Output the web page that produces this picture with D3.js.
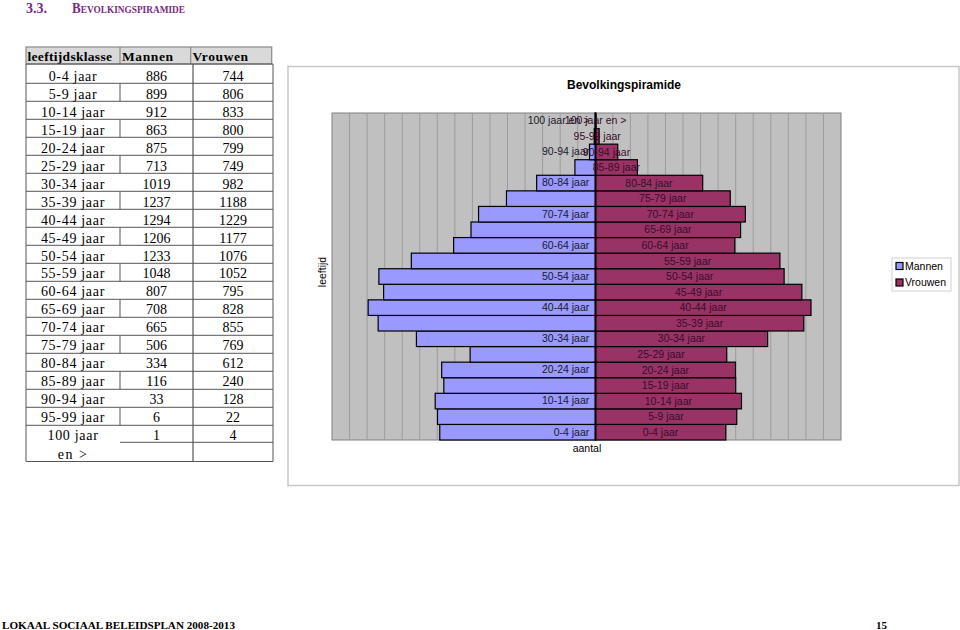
<!DOCTYPE html>
<html>
<head>
<meta charset="utf-8">
<script src="https://cdn.jsdelivr.net/npm/d3@7"></script>
<style>
    body { margin: 0; background: #fff; }
    svg { display: block; }
</style>
</head>
<body>
<script>
// leeftijdsklassen, van jong naar oud
var categories = ["0-4 jaar", "5-9 jaar", "10-14 jaar", "15-19 jaar", "20-24 jaar", "25-29 jaar",
    "30-34 jaar", "35-39 jaar", "40-44 jaar", "45-49 jaar", "50-54 jaar", "55-59 jaar",
    "60-64 jaar", "65-69 jaar", "70-74 jaar", "75-79 jaar", "80-84 jaar", "85-89 jaar",
    "90-94 jaar", "95-99 jaar", "100 jaar en >"];
var mannen = [886, 899, 912, 863, 875, 713, 1019, 1237, 1294, 1206, 1233, 1048,
    807, 708, 665, 506, 334, 116, 33, 6, 1];
var vrouwen = [744, 806, 833, 800, 799, 749, 982, 1188, 1229, 1177, 1076, 1052,
    795, 828, 855, 769, 612, 240, 128, 22, 4];
var tableHeader = ["leeftijdsklasse", "Mannen", "Vrouwen"];
var legendLabels = ["Mannen", "Vrouwen"];

var colMannen = "#9999ff",
    colVrouwen = "#993366";

var svg = d3.select("body").append("svg")
    .attr("width", 960)
    .attr("height", 630);

var serif = "'Liberation Serif', 'Times New Roman', serif",
    sans = "'Liberation Sans', Arial, sans-serif";

// ---- kop en voet van de pagina ----
svg.append("text")
    .attr("x", 26).attr("y", 12.5)
    .attr("font-family", serif).attr("font-weight", "bold").attr("font-size", 14.5)
    .attr("textLength", 21).attr("lengthAdjust", "spacingAndGlyphs")
    .attr("fill", "#7b2a7f")
    .text("3.3.");
svg.append("text")
    .attr("x", 72).attr("y", 12.5)
    .attr("font-family", serif).attr("font-weight", "bold").attr("font-size", 14)
    .attr("font-variant", "small-caps")
    .attr("textLength", 113).attr("lengthAdjust", "spacingAndGlyphs")
    .attr("fill", "#7b2a7f")
    .text("Bevolkingspiramide");

svg.append("text")
    .attr("x", 2).attr("y", 629)
    .attr("font-family", serif).attr("font-weight", "bold").attr("font-size", 11)
    .attr("textLength", 233).attr("lengthAdjust", "spacingAndGlyphs")
    .attr("fill", "#000")
    .text("LOKAAL SOCIAAL BELEIDSPLAN 2008-2013");
svg.append("text")
    .attr("x", 876).attr("y", 629)
    .attr("font-family", serif).attr("font-weight", "bold").attr("font-size", 11)
    .text("15");

// ---- tabel ----
var tbl = svg.append("g").attr("class", "tabel");
var tLeft = 26, tRight = 273, c1 = 120, c2 = 193;
var headTop = 47, headBottom = 64;

function rowTop(i) {
    return i === 0 ? headBottom : 65.3 + i * 18;
}
var tableBottom = 461.5;

tbl.append("rect")
    .attr("x", tLeft).attr("y", headTop)
    .attr("width", 271.7 - tLeft).attr("height", headBottom - headTop)
    .attr("fill", "#d9d9d9").attr("stroke", "#8a8a8a").attr("stroke-width", 1.2);
[c1, 190.7].forEach(function (x) {
    tbl.append("line")
        .attr("x1", x).attr("x2", x).attr("y1", headTop).attr("y2", headBottom)
        .attr("stroke", "#8a8a8a").attr("stroke-width", 1.2);
});
var headX = [27.5, 122, 192.5];
tableHeader.forEach(function (h, i) {
    tbl.append("text")
        .attr("x", headX[i]).attr("y", 60.5)
        .attr("font-family", serif).attr("font-weight", "bold").attr("font-size", 13.5)
        .attr("letter-spacing", i === 0 ? 0.3 : 0.6)
        .text(h);
});

var lineCol = "#555";
// horizontale lijnen
d3.range(0, 21).forEach(function (i) {
    tbl.append("line")
        .attr("x1", tLeft).attr("x2", tRight)
        .attr("y1", rowTop(i)).attr("y2", rowTop(i))
        .attr("stroke", lineCol).attr("stroke-width", 1);
});
tbl.append("line")
    .attr("x1", c1).attr("x2", tRight)
    .attr("y1", rowTop(21) - 1).attr("y2", rowTop(21) - 1)
    .attr("stroke", lineCol).attr("stroke-width", 1);
tbl.append("line")
    .attr("x1", tLeft).attr("x2", tRight)
    .attr("y1", tableBottom).attr("y2", tableBottom)
    .attr("stroke", lineCol).attr("stroke-width", 1.2);
// verticale lijnen
[tLeft, c2, tRight].forEach(function (x) {
    tbl.append("line")
        .attr("x1", x).attr("x2", x).attr("y1", headBottom).attr("y2", tableBottom)
        .attr("stroke", lineCol).attr("stroke-width", x === c2 ? 1.2 : 1);
});
d3.range(1, 20, 2).forEach(function (i) {
    tbl.append("line")
        .attr("x1", c1).attr("x2", c1).attr("y1", rowTop(i)).attr("y2", rowTop(i + 1))
        .attr("stroke", lineCol).attr("stroke-width", 1);
});

categories.forEach(function (cat, i) {
    var mid = (rowTop(i) + rowTop(i + 1)) / 2 + (i < 11 ? 2.2 : 1);
    var label = i === 20 ? "100 jaar" : cat;
    var cells = [[label, 73], [mannen[i], 156.5], [vrouwen[i], 233]];
    cells.forEach(function (c, j) {
        tbl.append("text")
            .attr("x", c[1]).attr("y", mid)
            .attr("dy", "0.35em")
            .attr("text-anchor", "middle")
            .attr("font-family", serif).attr("font-size", 14)
            .attr("letter-spacing", j === 0 ? 0.7 : 0)
            .text(c[0]);
    });
});
tbl.append("text")
    .attr("x", 73).attr("y", (rowTop(21) + tableBottom) / 2 + 1.5)
    .attr("dy", "0.35em")
    .attr("text-anchor", "middle")
    .attr("font-family", serif).attr("font-size", 14)
    .attr("letter-spacing", 1.5)
    .text("en >");

// ---- grafiek ----
svg.append("rect")
    .attr("x", 288).attr("y", 66.5)
    .attr("width", 959 - 288).attr("height", 485.5 - 66.5)
    .attr("fill", "#fff").attr("stroke", "#c8c8c8").attr("stroke-width", 1.5);

var plot = { left: 332, right: 841, top: 113, bottom: 440 };

var x = d3.scaleLinear()
    .domain([-1500, 1400])
    .range([plot.left, plot.right]);

var y = d3.scaleBand()
    .domain(categories)
    .range([plot.bottom, plot.top])
    .padding(0);

var g = svg.append("g");

g.append("rect")
    .attr("x", plot.left).attr("y", plot.top)
    .attr("width", plot.right - plot.left).attr("height", plot.bottom - plot.top)
    .attr("fill", "#c0c0c0").attr("stroke", "#808080").attr("stroke-width", 1);

g.selectAll(".grid")
    .data(d3.range(-1400, 1400, 100))
    .enter().append("line")
    .attr("class", "grid")
    .attr("x1", function (d) { return x(d); })
    .attr("x2", function (d) { return x(d); })
    .attr("y1", plot.top).attr("y2", plot.bottom)
    .attr("stroke", "#9c9c9c").attr("stroke-width", 1);

// mannen links (negatief), vrouwen rechts
g.selectAll(".man")
    .data(categories)
    .enter().append("rect")
    .attr("class", "man")
    .attr("x", function (d, i) { return x(-mannen[i]); })
    .attr("y", function (d) { return y(d); })
    .attr("width", function (d, i) { return x(0) - x(-mannen[i]); })
    .attr("height", y.bandwidth())
    .attr("fill", colMannen)
    .attr("stroke", "#000").attr("stroke-width", 1.2);

g.selectAll(".vrouw")
    .data(categories)
    .enter().append("rect")
    .attr("class", "vrouw")
    .attr("x", x(0))
    .attr("y", function (d) { return y(d); })
    .attr("width", function (d, i) { return x(vrouwen[i]) - x(0); })
    .attr("height", y.bandwidth())
    .attr("fill", colVrouwen)
    .attr("stroke", "#000").attr("stroke-width", 1.2);

// categorie-as op nul, elk tweede label
var yAxis = d3.axisLeft(y)
    .tickValues(categories.filter(function (d, i) { return i % 2 === 0; }))
    .tickSize(0)
    .tickPadding(6);

var ax = g.append("g")
    .attr("transform", "translate(" + x(0) + ",0)")
    .call(yAxis);
ax.select(".domain").attr("stroke", "#000").attr("stroke-width", 1.5);
ax.selectAll("text")
    .attr("font-family", sans).attr("font-size", 10.5).attr("fill", "#1a1a2a");

// gegevenslabels in de vrouwenbalken
g.selectAll(".vlabel")
    .data(categories)
    .enter().append("text")
    .attr("class", "vlabel")
    .attr("x", function (d, i) { return (x(0) + x(vrouwen[i])) / 2; })
    .attr("y", function (d) { return y(d) + y.bandwidth() / 2; })
    .attr("dy", "0.35em")
    .attr("text-anchor", "middle")
    .attr("font-family", sans).attr("font-size", 10.5)
    .attr("fill", "#3a0c28")
    .text(function (d) { return d; });

// titels
svg.append("text")
    .attr("x", 624).attr("y", 89)
    .attr("text-anchor", "middle")
    .attr("font-family", sans).attr("font-weight", "bold").attr("font-size", 12)
    .attr("fill", "#000")
    .text("Bevolkingspiramide");

svg.append("text")
    .attr("transform", "translate(326,272) rotate(-90)")
    .attr("text-anchor", "middle")
    .attr("font-family", sans).attr("font-size", 10.5)
    .attr("fill", "#000")
    .text("leeftijd");

svg.append("text")
    .attr("x", 587).attr("y", 452)
    .attr("text-anchor", "middle")
    .attr("font-family", sans).attr("font-size", 10.5)
    .attr("fill", "#000")
    .text("aantal");

// legenda
var lg = svg.append("g").attr("transform", "translate(892,258)");
lg.append("rect")
    .attr("width", 59).attr("height", 33)
    .attr("fill", "#fff").attr("stroke", "#cfcfcf").attr("stroke-width", 1);
legendLabels.forEach(function (l, i) {
    lg.append("rect")
        .attr("x", 4).attr("y", 4.5 + i * 16.5)
        .attr("width", 7).attr("height", 7)
        .attr("fill", i === 0 ? colMannen : colVrouwen)
        .attr("stroke", "#000").attr("stroke-width", 1.2);
    lg.append("text")
        .attr("x", 13).attr("y", 8 + i * 16.5)
        .attr("dy", "0.35em")
        .attr("font-family", sans).attr("font-size", 10.5)
        .attr("fill", "#000")
        .text(l);
});
</script>
</body>
</html>
